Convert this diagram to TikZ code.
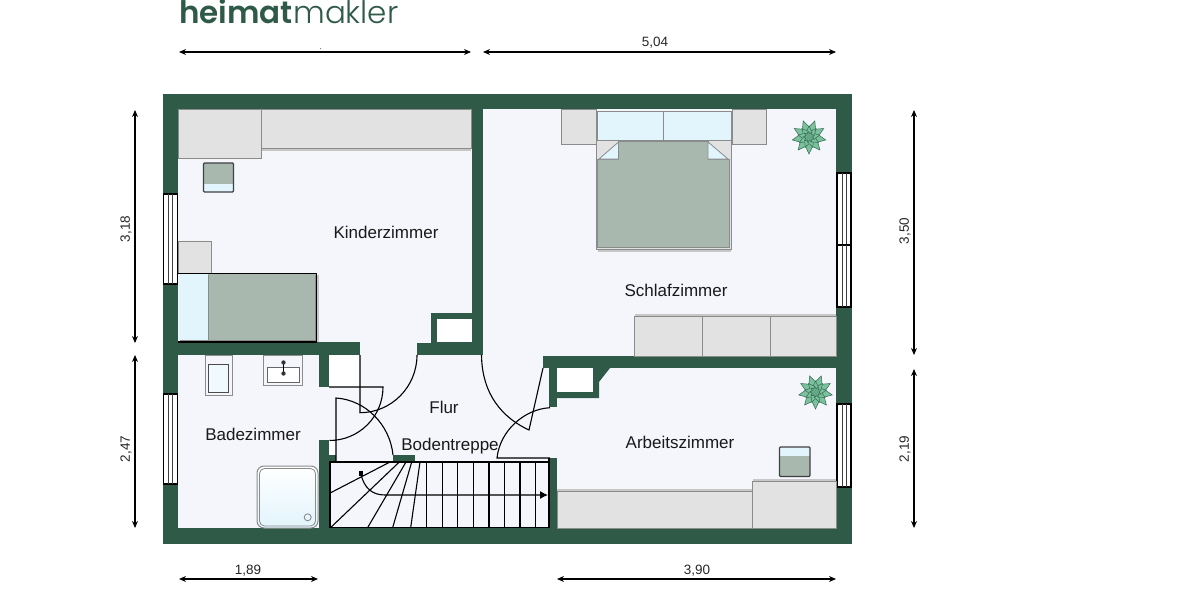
\documentclass[tikz,border=0pt]{standalone}
\usepackage{fontspec}
\setmainfont{Liberation Sans}
\newfontfamily\logofont{Poppins Light}
\newfontfamily\logoboldfont{Poppins SemiBold}
\usetikzlibrary{arrows.meta}
\definecolor{wallc}{HTML}{2F5A48}
\definecolor{floorc}{HTML}{F5F6FC}
\definecolor{cabc}{HTML}{E2E2E2}
\definecolor{edgec}{HTML}{8A8C8C}
\definecolor{sagec}{HTML}{A9B8AF}
\definecolor{pillowc}{HTML}{E2F4FC}
\definecolor{plantc}{HTML}{7CC09C}
\definecolor{plantd}{HTML}{2F6B50}
\tikzset{
  x=1pt,y=-1pt,
  wall/.style={fill=wallc,draw=none},
  cabinet/.style={fill=cabc,draw=edgec,line width=1pt},
  sage/.style={fill=sagec,draw=edgec,line width=1pt},
  pillow/.style={fill=pillowc,draw=edgec,line width=1pt},
  nook/.style={fill=white,draw=none},
  pane/.style={fill=white,draw=black,line width=1.1pt},
  paneline/.style={draw=black!75,line width=.8pt},
  doorline/.style={draw=black,line width=1.1pt},
  tread/.style={draw=black,line width=1.1pt},
  dimline/.style={draw=black,line width=1.1pt,{Stealth[length=7pt,width=6pt]}-{Stealth[length=7pt,width=6pt]}},
  dimtext/.style={font=\fontsize{13.5}{15}\selectfont,text=black!85,inner sep=0pt},
  roomtext/.style={font=\fontsize{17}{19}\selectfont,text=black!90,inner sep=0pt},
  logotext/.style={text=wallc,inner sep=0pt,anchor=base west},
  shadowline/.style={draw=black!22,line width=2pt},
  plant/.pic={
    \foreach \r/\k/\c in {17/0/plantc,11/20/plantc,6/10/plantc!70!plantd}{
      \filldraw[fill=\c,draw=plantd,line width=.5pt]
        (\k+10:\r) \foreach \a in {1,...,8}{ -- (\k+10+\a*40-20:\r*.6) -- (\k+10+\a*40:\r) } -- (\k+10+340:\r*.6) -- cycle;
    }
  }
}
\begin{document}
\begin{tikzpicture}
\useasboundingbox[fill=white] (0,0) rectangle (1200,600);

% logo
\node[logotext,font=\logoboldfont\fontsize{31}{33}\selectfont] (logoa) at (179,23) {heimat};
\node[logotext,font=\logofont\fontsize{31}{33}\selectfont] (logob) at (logoa.base east) {makler};

% shell and floor
\fill[wall] (163,94) rectangle (852,544);
\fill[floorc] (178,109) rectangle (836,528);

% inner walls
\fill[wall] (472,109) rectangle (483,355);
\fill[wall] (178,342) rectangle (360,355);
\fill[wall] (417,343) rectangle (483,355);
\fill[wall] (431,313) rectangle (472,343);
\fill[nook] (437,319) rectangle (472,342);
\fill[wall] (319,355) rectangle (329,387);
\fill[nook] (329,355) rectangle (360,387);
\fill[wall] (319,440) rectangle (329,544);
\fill[nook] (329,441) rectangle (336,455);
\fill[wall] (329,455) rectangle (336,462);
\fill[wall] (393,455) rectangle (415,462);
\fill[wall] (543,356) rectangle (836,368);
\fill[wall] (549,356) rectangle (557,407);
\fill[wall] (549,368) -- (610,368) -- (599,382) -- (599,398) -- (549,398) -- cycle;
\fill[nook] (557,368) rectangle (593,392);
\fill[wall] (549,458) rectangle (557,544);

% windows
\foreach \ya/\yb in {194/284,394/484}{
  \draw[pane] (163.5,\ya) rectangle (177.5,\yb);
  \draw[paneline] (168.5,\ya) -- (168.5,\yb) (172.5,\ya) -- (172.5,\yb);
}
\foreach \ya/\yb in {173/245,245/307,404/487}{
  \draw[pane] (837,\ya) rectangle (851,\yb);
  \draw[paneline] (842,\ya) -- (842,\yb) (846.5,\ya) -- (846.5,\yb);
}

% Kinderzimmer furniture
\draw[shadowline] (262,149.5) -- (471,149.5);
\draw[cabinet] (261,109) rectangle (471.5,148);
\draw[cabinet] (178,109) rectangle (261,158);
\draw[cabinet] (178,241) rectangle (211.5,273);
\fill[sagec] (203.5,163) rectangle (233.5,183.5);
\fill[pillowc] (203.5,183.5) rectangle (233.5,192);
\draw[black!75,line width=1.1pt,rounded corners=1pt] (203.5,163) rectangle (233.5,192);
\draw[shadowline] (318,275) -- (318,342);
\fill[pillowc] (179,274) rectangle (208,342);
\fill[sagec] (208,274) rectangle (316,342);
\draw[edgec,line width=1pt] (208,275) -- (208,340) (180,340) -- (315,340) -- (315,275);
\draw[black,line width=1.2pt] (178,273.5) -- (316.5,273.5) -- (316.5,342) -- (178,342);

% Schlafzimmer furniture
\draw[cabinet] (561,109) rectangle (596,144.5);
\draw[cabinet] (732,109) rectangle (766.5,144.5);
\draw[pillow] (597,111) rectangle (663.5,140);
\draw[pillow] (663.5,111) rectangle (731,140);
\draw[shadowline] (598,250.5) -- (731,250.5);
\draw[cabinet] (596,140) rectangle (731.5,249);
\fill[sagec,draw=edgec,line width=.8pt] (618.5,141) -- (708,141) -- (708,159) -- (729.5,159) -- (729.5,247) -- (597.5,247) -- (597.5,159) -- (618.5,159) -- cycle;
\fill[pillowc,draw=edgec,line width=.8pt] (618.5,142) -- (618.5,159) -- (599,159) -- cycle;
\fill[pillowc,draw=edgec,line width=.8pt] (708,142) -- (708,159) -- (728,159) -- cycle;
\draw[shadowline] (635,314.5) -- (836,314.5);
\draw[cabinet] (634.5,316) rectangle (702.5,356);
\draw[cabinet] (702.5,316) rectangle (770.5,356);
\draw[cabinet] (770.5,316) rectangle (836,356);
\pic at (809,137) {plant};

% Arbeitszimmer furniture
\pic at (815.5,392) {plant};
\fill[pillowc] (779.5,447) rectangle (810,456);
\fill[sagec] (779.5,456) rectangle (810,476.5);
\draw[black!75,line width=1.1pt,rounded corners=1pt] (779.5,447) rectangle (810,476.5);
\draw[shadowline] (557,490) -- (752,490);
\draw[shadowline] (753,479.5) -- (836,479.5);
\draw[cabinet] (557,491) rectangle (752.5,528);
\draw[cabinet] (752.5,481) rectangle (836,528);

% Bad furniture
\draw[cabinet,fill=floorc] (205,355) rectangle (232,395.5);
\draw[black!70,line width=1pt,fill=pillowc!50!white] (208,364) rectangle (228,392.5);
\draw[cabinet,fill=floorc] (263.5,355) rectangle (302.5,385);
\draw[black!60,line width=1pt,fill=white] (267.5,367) rectangle (299.5,382.5);
\draw[black,line width=1pt] (283.5,362) -- (283.5,373.5);
\fill[black!80] (283.5,362.5) circle (2.2) (283.5,373.5) circle (2.2);
\draw[edgec,line width=1pt,rounded corners=7pt,top color=white,bottom color=pillowc] (257,466) rectangle (318,528);
\draw[edgec,line width=.8pt,rounded corners=5pt] (259.5,468.5) rectangle (315.5,526);
\draw[edgec,line width=.9pt] (307.7,517.3) circle (3.5);

% stairs
\fill[floorc] (330,462) rectangle (549,527.5);
\draw[tread] (330,527.5) -- (330,462) -- (549,462);
\draw[tread] (330,527.5) -- (549,527.5);
\draw[tread] (549,458) -- (549,527.5);
\foreach \sx in {426.7,442.3,457.7,473.7,489,504.3,520,535.7}{
  \draw[tread] (\sx,462) -- (\sx,527.5);
}
\draw[tread] (420,462) -- (410.7,527.5);
\draw[tread] (411.7,462) -- (392.7,527.5);
\draw[tread] (406,462) -- (367.7,527.5);
\draw[tread] (399.3,462) -- (330.7,527.5);
\draw[tread] (390,462) -- (330.7,492.7);
\fill[black] (358.5,471) rectangle (363,475.5);
\draw[tread,-{Latex[length=8pt,width=8pt]}] (360.7,473.3) .. controls (364,488) and (372,495) .. (385,495) -- (548,495);

% doors
\draw[doorline] (360,355) -- (360,412.7) arc[start angle=-90,end angle=0,x radius=57,y radius=-57.7];
\draw[doorline] (329,387) -- (383,387) arc[start angle=0,end angle=90,radius=53.5];
\draw[doorline] (336,462) -- (336,398) .. controls (366,400) and (390,425) .. (393,455);
\draw[doorline] (543,368) -- (529,430) .. controls (503,418) and (482,395) .. (481.5,355);
\draw[doorline] (550,458) -- (497,458) .. controls (500,430) and (525,409) .. (550,407.7);

% room labels
\node[roomtext] (kinder) at (386,232) {Kinderzimmer};
\node[roomtext] (schlaf) at (676,290) {Schlafzimmer};
\node[roomtext] (bad) at (253,434.5) {Badezimmer};
\node[roomtext] (flur) at (444,407.5) {Flur};
\node[roomtext] (boden) at (450,446) {Bodentreppe};
\node[roomtext] (arbeit) at (680,442) {Arbeitszimmer};

% dimensions
\coordinate (t1) at (179,52); \coordinate (t2) at (471,52);
\coordinate (t3) at (483,52); \coordinate (t4) at (836,52);
\coordinate (l1) at (135,110); \coordinate (l2) at (135,343);
\coordinate (l3) at (135,355); \coordinate (l4) at (135,528);
\coordinate (r1) at (914,110); \coordinate (r2) at (914,355);
\coordinate (r3) at (914,369); \coordinate (r4) at (914,528);
\coordinate (b1) at (179,579); \coordinate (b2) at (318,579);
\coordinate (b3) at (557,579); \coordinate (b4) at (836,579);
\draw[dimline] (t1) -- (t2);
\draw[dimline] (t3) -- (t4);
\draw[dimline] (l1) -- (l2);
\draw[dimline] (l3) -- (l4);
\draw[dimline] (r1) -- (r2);
\draw[dimline] (r3) -- (r4);
\draw[dimline] (b1) -- (b2);
\draw[dimline] (b3) -- (b4);
\fill[black!50] (320.5,48.5) circle (.6);
\node[dimtext] (d504) at (655,43) {5,04};
\node[dimtext,rotate=90] (d318) at (126,229) {3,18};
\node[dimtext,rotate=90] (d247) at (126,449) {2,47};
\node[dimtext,rotate=90] (d350) at (905,231) {3,50};
\node[dimtext,rotate=90] (d219) at (905,449) {2,19};
\node[dimtext] (d189) at (248,571) {1,89};
\node[dimtext] (d390) at (697,571) {3,90};
\end{tikzpicture}
\end{document}
